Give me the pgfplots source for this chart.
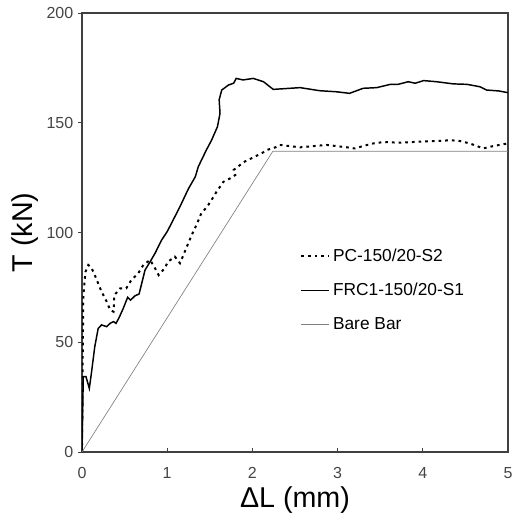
\documentclass[border=0pt]{standalone}
\usepackage{fontspec}
\setmainfont{Liberation Sans}
\usepackage{pgfplots}
\pgfplotsset{compat=1.18}
\definecolor{axgray}{HTML}{404040}
\definecolor{tickgray}{HTML}{454545}
\begin{document}
\begin{tikzpicture}
\path[use as bounding box] (-61.5pt,-50.25pt) rectangle ++(389.25pt,389.25pt);
\begin{axis}[
  scale only axis, width=319.5pt, height=329.25pt,
  xmin=0, xmax=5, ymin=0, ymax=200,
  xtick={0,1,2,3,4,5}, ytick={0,50,100,150,200},
  xtick pos=bottom, ytick pos=left,
  xtick align=inside, ytick align=outside,
  major tick length=3pt,
  axis line style={axgray, line width=0.8pt},
  tick style={axgray, line width=0.6pt},
  /pgf/number format/assume math mode=true,
  ticklabel style={font=\fontsize{12}{14}\selectfont, text=tickgray},
  xticklabel style={yshift=-8pt},
  xlabel={ΔL (mm)}, ylabel={T (kN)},
  xlabel style={font=\fontsize{21.5}{24}\selectfont, yshift=1pt},
  ylabel style={font=\fontsize{21.5}{24}\selectfont, yshift=-1pt},
  legend style={draw=none, fill=none, at={(rel axis cs:0.512,0.470)}, anchor=north west,
    font=\fontsize{13}{15}\selectfont, row sep=11pt, inner sep=0pt},
  legend cell align=left,
  legend image code/.code={\draw[#1] (0pt,0pt) -- (21pt,0pt);},
]
\addplot[black, line width=1.5pt, dash pattern=on 2pt off 3pt] coordinates {
(0,0) (0.008,40) (0.015,70.8) (0.04,82) (0.074,85.2) (0.11,84) (0.15,80.6) (0.23,73) (0.29,68.5) (0.33,64.7) (0.37,63.9) (0.38,71.5) (0.45,74.6) (0.52,74.6) (0.58,78.4) (0.66,81.4) (0.72,85.2) (0.80,87.5) (0.857,83.7) (0.9,80.6) (0.97,83.7) (1.01,86.7) (1.09,89) (1.15,86) (1.19,89.7) (1.23,93.5) (1.29,99) (1.35,104) (1.40,108.7) (1.47,111.8) (1.52,114.8) (1.58,118.6) (1.66,123.1) (1.74,124.7) (1.80,126.2) (1.78,128.5) (1.83,130) (1.91,132.3) (2.03,134.6) (2.11,136.1) (2.17,137.6) (2.27,138.8) (2.32,139.9) (2.56,138.8) (2.87,139.9) (3.11,138.8) (3.20,138.3) (3.30,139.4) (3.42,140.6) (3.54,141.2) (3.73,140.9) (3.97,141.4) (4.16,141.7) (4.32,142) (4.42,141.8) (4.55,140.6) (4.71,138.3) (4.83,139.4) (5.0,140.6)
};
\addlegendentry{PC-150/20-S2}
\addplot[black, line width=1.1pt] coordinates {
(0,0) (0.015,34.3) (0.047,34.3) (0.086,29) (0.11,35.8) (0.15,48) (0.19,56.3) (0.23,57.9) (0.29,57.1) (0.33,58.6) (0.37,59.4) (0.40,58.6) (0.44,61.6) (0.485,65.5) (0.536,70.5) (0.57,69.2) (0.62,71.1) (0.67,72) (0.74,82.9) (0.80,86.7) (0.857,90.5) (0.935,96.6) (1.0,100.4) (1.07,105.7) (1.15,111.8) (1.25,120) (1.33,125.4) (1.365,130) (1.46,137.6) (1.52,142) (1.59,148.2) (1.62,154.3) (1.61,160.5) (1.64,164.9) (1.72,167.2) (1.78,168) (1.81,170.2) (1.89,169.5) (2.01,170.2) (2.13,168.7) (2.245,165.2) (2.56,166) (2.79,164.6) (2.99,164.1) (3.14,163.4) (3.30,165.7) (3.46,166) (3.62,167.5) (3.71,167.5) (3.83,168.7) (3.91,168) (4.01,169.2) (4.16,168.7) (4.36,167.7) (4.52,167.5) (4.67,166.4) (4.75,164.9) (4.89,164.5) (5.0,163.7)
};
\addlegendentry{FRC1-150/20-S1}
\addplot[gray, line width=0.5pt] coordinates {
(0,0) (2.24,137) (5,137)
};
\addlegendentry{Bare Bar}
\end{axis}
\end{tikzpicture}
\end{document}
